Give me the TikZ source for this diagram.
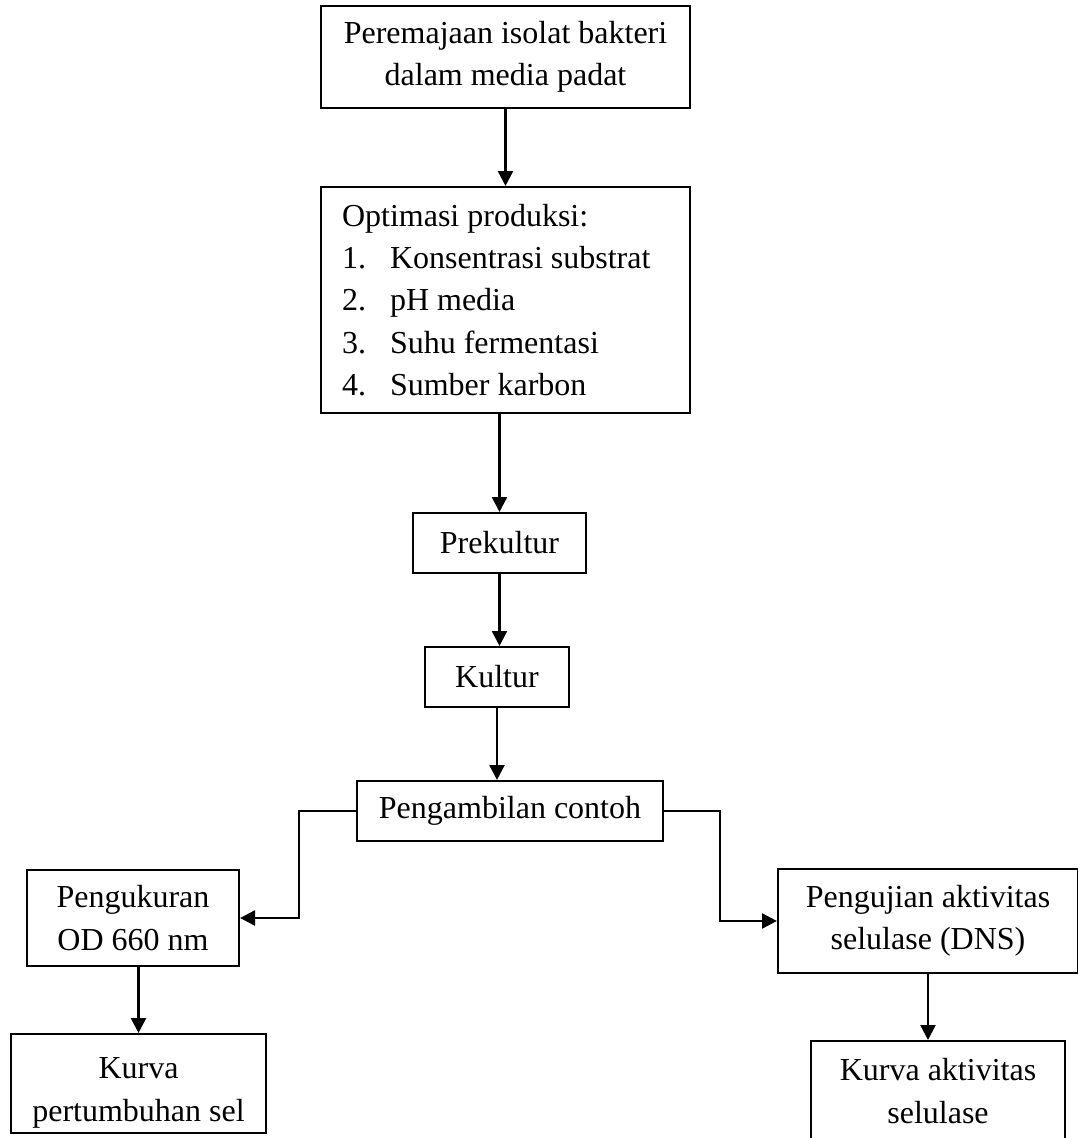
\documentclass[tikz,border=0pt]{standalone}
\usepackage{fontspec}
\setmainfont{Liberation Serif}
\usetikzlibrary{positioning,arrows.meta}
\tikzset{
    stage/.style={draw, rectangle, line width=.8pt, align=center, inner sep=2pt},
    flow/.style={-{Triangle[length=5.6pt,width=5.6pt]}, line width=1pt},
}
\newcommand{\numitem}[1]{\makebox[18pt][l]{#1}}

\begin{document}
\begin{tikzpicture}[x=0.375pt, y=-0.375pt, font=\fontsize{12}{15.8}\selectfont]
    \useasboundingbox (0,0) rectangle (1078,1138);
    % main column
    \node[stage, minimum width=138.4pt, minimum height=38.25pt] (remaja) at (505.5,57)
        {Peremajaan isolat bakteri\\dalam media padat};
    \node[stage, inner xsep=7.9pt, minimum height=84.75pt] (optimasi) at (505.5,300)
        {\parbox{122.6pt}{\raggedright
         Optimasi produksi:\\
         \numitem{1.}Konsentrasi substrat\\
         \numitem{2.}pH media\\
         \numitem{3.}Suhu fermentasi\\
         \numitem{4.}Sumber karbon}};
    \node[stage, minimum width=64.9pt, minimum height=22.5pt] (prekultur) at (499.5,543) {Prekultur};
    \node[stage, minimum width=54pt, minimum height=22.5pt] (kultur) at (497,677) {Kultur};
    \node[stage, minimum width=114.75pt, minimum height=22.5pt] (contoh) at (510,811) {Pengambilan contoh};
    % branches
    \node[stage, minimum width=79.5pt, minimum height=36pt] (ukur) at (133,918) {Pengukuran\\OD 660 nm};
    \node[stage, minimum width=112.5pt, minimum height=39pt] (uji) at (928,921) {Pengujian aktivitas\\selulase (DNS)};
    \node[stage, minimum width=95.6pt, minimum height=37.1pt] (kurvasel) at (138.5,1083.5)
        {\raisebox{-6pt}[0pt][0pt]{\begin{tabular}{@{}c@{}}Kurva\\pertumbuhan sel\end{tabular}}};
    \node[stage, minimum width=95.25pt, minimum height=37.5pt] (kurvaakt) at (938,1091) {Kurva aktivitas\\selulase};
    % connectors
    \draw[flow] (remaja) -- (optimasi);
    \draw[flow] (optimasi.south -| prekultur.north) -- (prekultur.north);
    \draw[flow] (prekultur.south) -- (prekultur.south |- kultur.north);
    \draw[flow] (kultur.south) -- (kultur.south |- contoh.north);
    \draw[flow] (contoh.west) -- ++(-57,0) |- (ukur.east);
    \draw[flow] (contoh.east) -- ++(56,0) |- (uji.west);
    \draw[flow] (ukur.south -| kurvasel.north) -- (kurvasel.north);
    \draw[flow] (uji.south) -- (uji.south |- kurvaakt.north);
\end{tikzpicture}
\end{document}
